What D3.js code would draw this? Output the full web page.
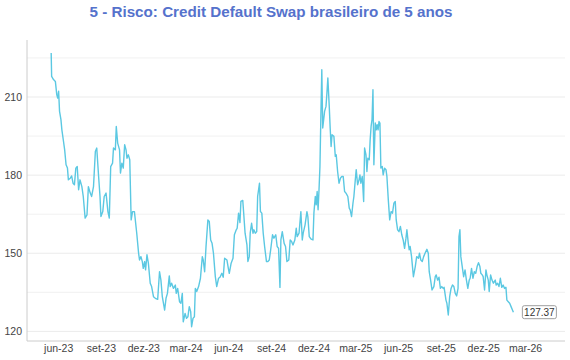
<!DOCTYPE html>
<html>
<head>
<meta charset="utf-8">
<script src="https://cdn.jsdelivr.net/npm/d3@7"></script>
<style>
  body { margin: 0; background: #fff; }
  text { font-family: "Liberation Sans", Arial, sans-serif; }
</style>
</head>
<body>
<div id="chart"></div>
<script>
// CDS 5 anos (data, pontos-base)
const cdsSeries = [
  ["2023-05-17",226.9],["2023-05-18",217.9],["2023-05-22",216.7],["2023-05-26",216.0],["2023-05-29",210.9],
  ["2023-05-31",209.6],["2023-06-02",212.2],["2023-06-04",204.5],["2023-06-07",201.3],["2023-06-09",197.4],
  ["2023-06-12",193.6],["2023-06-15",189.7],["2023-06-18",184.0],["2023-06-21",182.7],["2023-06-23",178.2],
  ["2023-06-27",178.8],["2023-06-30",179.7],["2023-07-03",176.9],["2023-07-06",176.3],["2023-07-09",182.7],
  ["2023-07-12",183.3],["2023-07-15",174.4],["2023-07-18",178.2],["2023-07-22",175.6],["2023-07-25",171.8],
  ["2023-07-29",163.5],["2023-08-02",164.7],["2023-08-05",175.6],["2023-08-09",173.1],["2023-08-12",171.8],
  ["2023-08-16",175.6],["2023-08-20",189.1],["2023-08-23",190.4],["2023-08-27",179.5],["2023-08-30",171.8],
  ["2023-09-01",164.1],["2023-09-05",166.0],["2023-09-08",171.8],["2023-09-12",173.1],["2023-09-16",166.0],
  ["2023-09-19",163.5],["2023-09-22",183.3],["2023-09-26",184.6],["2023-09-28",190.4],["2023-10-02",189.7],
  ["2023-10-04",198.7],["2023-10-07",192.3],["2023-10-11",189.7],["2023-10-13",180.8],["2023-10-16",184.6],
  ["2023-10-19",182.7],["2023-10-22",191.7],["2023-10-25",189.7],["2023-10-27",186.5],["2023-10-30",187.8],
  ["2023-11-02",185.9],["2023-11-05",162.8],["2023-11-08",166.0],["2023-11-12",166.0],["2023-11-17",157.7],
  ["2023-11-21",150.0],["2023-11-23",147.4],["2023-11-26",148.7],["2023-11-29",146.8],["2023-12-01",144.2],
  ["2023-12-04",146.8],["2023-12-06",143.6],["2023-12-09",149.4],["2023-12-12",146.2],["2023-12-16",138.5],
  ["2023-12-19",137.2],["2023-12-23",133.3],["2023-12-27",132.7],["2024-01-01",132.3],["2024-01-05",142.9],
  ["2024-01-08",139.7],["2024-01-11",133.3],["2024-01-16",128.2],["2024-01-19",132.7],["2024-01-22",134.6],
  ["2024-01-26",141.3],["2024-01-28",137.2],["2024-01-31",138.5],["2024-02-04",136.5],["2024-02-08",137.8],
  ["2024-02-10",134.6],["2024-02-13",136.5],["2024-02-17",131.4],["2024-02-20",130.8],["2024-02-23",134.6],
  ["2024-02-25",123.7],["2024-02-29",126.9],["2024-03-03",125.0],["2024-03-06",125.6],["2024-03-09",129.5],
  ["2024-03-12",127.6],["2024-03-14",121.8],["2024-03-17",125.0],["2024-03-20",125.6],["2024-03-22",136.5],
  ["2024-03-25",135.3],["2024-03-29",137.2],["2024-04-02",140.4],["2024-04-06",148.7],["2024-04-08",147.4],
  ["2024-04-11",142.9],["2024-04-14",152.6],["2024-04-18",162.8],["2024-04-21",162.2],["2024-04-24",155.1],
  ["2024-04-27",153.8],["2024-04-30",150.0],["2024-05-04",141.0],["2024-05-07",137.2],["2024-05-11",140.4],
  ["2024-05-14",140.8],["2024-05-18",142.3],["2024-05-21",140.8],["2024-05-24",148.1],["2024-05-29",147.4],
  ["2024-06-01",144.2],["2024-06-03",142.3],["2024-06-07",146.2],["2024-06-11",148.1],["2024-06-14",157.1],
  ["2024-06-18",159.0],["2024-06-20",159.6],["2024-06-23",165.4],["2024-06-26",161.8],["2024-06-28",169.9],
  ["2024-07-02",170.3],["2024-07-04",165.4],["2024-07-07",157.7],["2024-07-11",153.2],["2024-07-13",146.8],
  ["2024-07-16",148.7],["2024-07-18",157.7],["2024-07-21",161.5],["2024-07-24",157.7],["2024-07-26",159.0],
  ["2024-07-29",157.7],["2024-08-01",158.3],["2024-08-03",171.8],["2024-08-07",176.9],["2024-08-09",166.0],
  ["2024-08-12",165.4],["2024-08-15",157.7],["2024-08-18",152.6],["2024-08-22",146.8],["2024-08-25",146.8],
  ["2024-08-28",147.4],["2024-08-31",151.3],["2024-09-04",157.1],["2024-09-07",155.8],["2024-09-11",157.1],
  ["2024-09-14",152.6],["2024-09-17",151.9],["2024-09-20",136.9],["2024-09-22",155.1],["2024-09-25",158.3],
  ["2024-09-29",153.8],["2024-10-02",152.6],["2024-10-05",146.8],["2024-10-09",147.4],["2024-10-12",155.1],
  ["2024-10-15",154.5],["2024-10-18",153.2],["2024-10-22",155.1],["2024-10-25",159.6],["2024-10-27",156.4],
  ["2024-10-31",157.7],["2024-11-04",166.0],["2024-11-07",155.1],["2024-11-09",157.7],["2024-11-13",160.9],
  ["2024-11-17",166.0],["2024-11-19",164.1],["2024-11-22",156.4],["2024-11-26",155.4],["2024-11-30",155.1],
  ["2024-12-02",165.4],["2024-12-05",171.8],["2024-12-07",168.6],["2024-12-09",173.7],["2024-12-11",166.7],
  ["2024-12-13",174.4],["2024-12-15",183.3],["2024-12-17",202.6],["2024-12-19",220.5],["2024-12-21",198.1],
  ["2024-12-23",201.3],["2024-12-25",204.5],["2024-12-28",206.4],["2024-12-30",211.5],["2025-01-01",217.3],
  ["2025-01-04",206.4],["2025-01-06",198.1],["2025-01-08",191.0],["2025-01-10",195.5],["2025-01-14",194.9],
  ["2025-01-17",187.2],["2025-01-19",187.8],["2025-01-22",181.4],["2025-01-25",176.9],["2025-01-28",178.8],
  ["2025-01-31",179.5],["2025-02-03",179.5],["2025-02-06",173.7],["2025-02-09",173.1],["2025-02-13",171.8],
  ["2025-02-16",167.3],["2025-02-18",166.7],["2025-02-21",164.1],["2025-02-24",169.2],["2025-02-26",171.8],
  ["2025-03-01",178.2],["2025-03-03",182.1],["2025-03-06",176.3],["2025-03-09",178.2],["2025-03-11",180.1],
  ["2025-03-13",176.9],["2025-03-16",179.5],["2025-03-19",169.9],["2025-03-21",190.4],["2025-03-24",187.8],
  ["2025-03-26",181.4],["2025-03-28",186.5],["2025-03-31",185.9],["2025-04-02",193.6],["2025-04-04",198.7],
  ["2025-04-06",201.3],["2025-04-08",212.8],["2025-04-10",184.0],["2025-04-13",200.0],["2025-04-15",197.4],
  ["2025-04-17",199.4],["2025-04-19",197.4],["2025-04-21",200.6],["2025-04-23",200.0],["2025-04-25",182.7],
  ["2025-04-28",183.3],["2025-04-30",180.1],["2025-05-03",182.7],["2025-05-06",182.1],["2025-05-08",179.5],
  ["2025-05-11",170.5],["2025-05-14",162.8],["2025-05-17",166.0],["2025-05-20",165.4],["2025-05-23",169.2],
  ["2025-05-26",169.9],["2025-05-28",162.8],["2025-05-31",159.0],["2025-06-03",158.3],["2025-06-06",160.3],
  ["2025-06-09",157.1],["2025-06-12",155.1],["2025-06-15",151.9],["2025-06-18",155.8],["2025-06-20",159.0],
  ["2025-06-23",153.8],["2025-06-25",151.3],["2025-06-27",152.6],["2025-06-30",148.7],["2025-07-04",141.0],
  ["2025-07-08",144.9],["2025-07-11",148.7],["2025-07-15",148.1],["2025-07-17",150.0],["2025-07-20",147.4],
  ["2025-07-23",146.8],["2025-07-26",148.7],["2025-07-29",150.0],["2025-08-02",151.5],["2025-08-05",150.0],
  ["2025-08-07",142.9],["2025-08-10",139.7],["2025-08-13",135.9],["2025-08-17",137.2],["2025-08-20",141.0],
  ["2025-08-22",141.7],["2025-08-25",139.7],["2025-08-28",140.8],["2025-08-31",136.5],["2025-09-03",137.2],
  ["2025-09-06",136.5],["2025-09-08",136.9],["2025-09-12",132.0],["2025-09-14",130.8],["2025-09-17",126.3],
  ["2025-09-20",133.3],["2025-09-23",136.5],["2025-09-26",137.8],["2025-09-29",137.2],["2025-10-02",134.6],
  ["2025-10-05",133.6],["2025-10-08",136.5],["2025-10-10",156.4],["2025-10-12",159.0],["2025-10-14",148.7],
  ["2025-10-17",144.9],["2025-10-20",141.0],["2025-10-23",143.6],["2025-10-26",139.7],["2025-10-29",136.5],
  ["2025-11-01",139.7],["2025-11-03",140.4],["2025-11-06",144.2],["2025-11-09",140.4],["2025-11-12",142.9],
  ["2025-11-15",142.3],["2025-11-18",144.9],["2025-11-21",146.4],["2025-11-24",144.9],["2025-11-26",142.3],
  ["2025-11-29",141.7],["2025-12-01",141.0],["2025-12-04",135.9],["2025-12-07",143.6],["2025-12-09",141.7],
  ["2025-12-12",139.7],["2025-12-14",135.3],["2025-12-17",141.7],["2025-12-20",139.7],["2025-12-23",138.5],
  ["2025-12-27",139.7],["2025-12-29",137.8],["2026-01-01",138.5],["2026-01-04",137.2],["2026-01-07",140.4],
  ["2026-01-10",136.9],["2026-01-13",137.8],["2026-01-16",136.5],["2026-01-19",136.9],["2026-01-21",132.0],
  ["2026-01-24",131.4],["2026-01-27",130.8],["2026-01-30",129.5],["2026-02-02",128.2],["2026-02-04",127.37]
];

const yTicks = [120, 150, 180, 210];
const yMinorTicks = [135, 165, 195, 225];
const xTickDates = ["2023-06-01","2023-09-01","2023-12-01","2024-03-01","2024-06-01","2024-09-01",
                    "2024-12-01","2025-03-01","2025-06-01","2025-09-01","2025-12-01","2026-03-01"];
const xTickLabels = ["jun-23","set-23","dez-23","mar-24","jun-24","set-24",
                     "dez-24","mar-25","jun-25","set-25","dez-25","mar-26"];
const chartTitle = "5 - Risco: Credit Default Swap brasileiro de 5 anos";

const width = 570, height = 360;
const plot = {left: 27, right: 565, top: 40, bottom: 341};

const parse = d3.utcParse("%Y-%m-%d");
const data = cdsSeries.map(d => ({date: parse(d[0]), value: d[1]}));

const svg = d3.select("#chart")
  .append("svg")
    .attr("width", width)
    .attr("height", height)
    .style("display", "block");

svg.append("rect").attr("width", width).attr("height", height).attr("fill", "#fff");

// scales
const x = d3.scaleUtc()
  .domain([parse("2023-03-26"), parse("2026-05-26")])
  .range([plot.left, plot.right]);

const y = d3.scaleLinear()
  .domain([116.3, 231.9])
  .range([plot.bottom, plot.top]);

// grid lines
svg.append("g")
  .selectAll("line.minor")
  .data(yMinorTicks)
  .enter().append("line")
    .attr("x1", plot.left).attr("x2", plot.right)
    .attr("y1", d => y(d)).attr("y2", d => y(d))
    .attr("stroke", "#f1f1f1")
    .attr("stroke-width", 1);

svg.append("g")
  .selectAll("line.major")
  .data(yTicks)
  .enter().append("line")
    .attr("x1", plot.left).attr("x2", plot.right)
    .attr("y1", d => y(d)).attr("y2", d => y(d))
    .attr("stroke", "#ebebeb")
    .attr("stroke-width", 1);

// axes lines
svg.append("line")
  .attr("x1", plot.left).attr("x2", plot.left)
  .attr("y1", plot.top).attr("y2", plot.bottom)
  .attr("stroke", "#cccccc");
svg.append("line")
  .attr("x1", plot.left).attr("x2", plot.right)
  .attr("y1", plot.bottom).attr("y2", plot.bottom)
  .attr("stroke", "#cccccc");

// Y axis labels
const yAxis = svg.append("g")
  .attr("transform", `translate(${plot.left},0)`)
  .call(d3.axisLeft(y).tickValues(yTicks).tickSize(0).tickPadding(5));
yAxis.select(".domain").remove();
yAxis.selectAll("text")
  .style("font-size", "10.5px")
  .attr("fill", "#444");

// X axis labels
const xAxis = svg.append("g")
  .attr("transform", `translate(0,${plot.bottom})`)
  .call(d3.axisBottom(x)
    .tickValues(xTickDates.map(parse))
    .tickFormat((d, i) => xTickLabels[i])
    .tickSize(0)
    .tickPadding(4));
xAxis.select(".domain").remove();
xAxis.selectAll("text")
  .style("font-size", "10.5px")
  .attr("fill", "#444");

// line
const line = d3.line()
  .x(d => x(d.date))
  .y(d => y(d.value));

svg.append("path")
  .datum(data)
  .attr("fill", "none")
  .attr("stroke", "#5bc8e2")
  .attr("stroke-width", 1.4)
  .attr("stroke-linejoin", "round")
  .attr("d", line);

// last value tag
const last = data[data.length - 1];
const tag = svg.append("g")
  .attr("transform", `translate(${x(last.date) + 9},${y(last.value)})`);
tag.append("rect")
  .attr("x", 0).attr("y", -6.5)
  .attr("width", 34).attr("height", 13)
  .attr("rx", 2)
  .attr("fill", "#fff")
  .attr("stroke", "#888")
  .attr("stroke-width", 0.8);
tag.append("text")
  .attr("x", 17).attr("y", 0)
  .attr("dy", "0.35em")
  .attr("text-anchor", "middle")
  .style("font-size", "10px")
  .attr("fill", "#333")
  .text(d3.format(".2f")(last.value));

// title
svg.append("text")
  .attr("x", 271)
  .attr("y", 17)
  .attr("text-anchor", "middle")
  .style("font-size", "15.2px")
  .style("font-weight", "bold")
  .attr("fill", "#5572cc")
  .text(chartTitle);
</script>
</body>
</html>
